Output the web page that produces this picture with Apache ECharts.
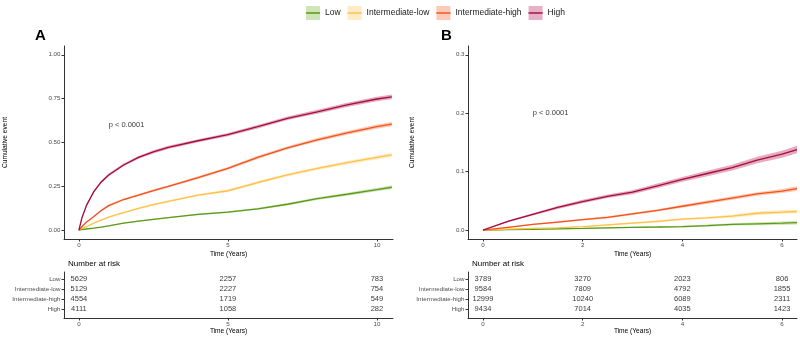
<!DOCTYPE html>
<html>
<head>
<meta charset="utf-8">
<script src="https://cdn.jsdelivr.net/npm/echarts@6/dist/echarts.min.js"></script>
<style>
  html, body { margin: 0; padding: 0; background: #fff; }
  #chart { width: 800px; height: 339px; }
</style>
</head>
<body>
<div id="chart"></div>
<script>
const FONT = "'Liberation Sans', Arial, sans-serif";

const groups = ["Low", "Intermediate-low", "Intermediate-high", "High"];
const lineColors = ["#5b9a17", "#ffc24a", "#f4511e", "#a50d3c"];
const bandColors = ["#d3e5bd", "#ffebc2", "#fcc9b1", "#e6aabe"];
const keyFills = ["rgba(150,196,100,0.45)", "rgba(255,215,140,0.5)", "rgba(250,150,110,0.5)", "rgba(205,100,140,0.5)"];

// panel A: cumulative event, 0-10.5 years
const timeA = [0, 0.1, 0.25, 0.5, 0.75, 1, 1.5, 2, 2.5, 3, 4, 5, 6, 7, 8, 9, 10, 10.5];
const lowA = [0, 0.003, 0.007, 0.012, 0.018, 0.025, 0.04, 0.052, 0.062, 0.072, 0.09, 0.103, 0.122, 0.148, 0.18, 0.205, 0.232, 0.245];
const intLowA = [0, 0.01, 0.02, 0.04, 0.058, 0.075, 0.1, 0.125, 0.146, 0.165, 0.2, 0.225, 0.272, 0.315, 0.352, 0.385, 0.415, 0.43];
const intHighA = [0, 0.02, 0.045, 0.078, 0.112, 0.14, 0.175, 0.2, 0.226, 0.25, 0.3, 0.352, 0.415, 0.47, 0.515, 0.555, 0.59, 0.605];
const highA = [0, 0.07, 0.14, 0.22, 0.275, 0.315, 0.372, 0.415, 0.447, 0.472, 0.51, 0.545, 0.59, 0.638, 0.675, 0.715, 0.748, 0.76];
// half width of the confidence band
const ciLowA = [0, 0.001, 0.002, 0.002, 0.003, 0.003, 0.003, 0.004, 0.004, 0.004, 0.005, 0.005, 0.006, 0.007, 0.008, 0.009, 0.01, 0.011];
const ciIntLowA = [0, 0.002, 0.003, 0.003, 0.004, 0.004, 0.005, 0.005, 0.006, 0.006, 0.006, 0.007, 0.008, 0.008, 0.009, 0.01, 0.011, 0.011];
const ciIntHighA = [0, 0.003, 0.004, 0.005, 0.005, 0.006, 0.006, 0.007, 0.007, 0.007, 0.008, 0.008, 0.009, 0.009, 0.01, 0.011, 0.012, 0.012];
const ciHighA = [0, 0.005, 0.006, 0.007, 0.007, 0.008, 0.008, 0.008, 0.009, 0.009, 0.009, 0.009, 0.01, 0.01, 0.011, 0.012, 0.013, 0.013];

// panel B: cumulative event, 0-6.3 years
const timeB = [0, 0.5, 1, 1.5, 2, 2.5, 3, 3.5, 4, 4.5, 5, 5.5, 6, 6.3];
const lowB = [0, 0.001, 0.0015, 0.0025, 0.003, 0.004, 0.005, 0.0055, 0.0063, 0.008, 0.01, 0.011, 0.012, 0.013];
const intLowB = [0, 0.002, 0.003, 0.004, 0.006, 0.009, 0.012, 0.015, 0.019, 0.021, 0.024, 0.029, 0.031, 0.032];
const intHighB = [0, 0.005, 0.01, 0.014, 0.018, 0.022, 0.028, 0.034, 0.041, 0.048, 0.055, 0.062, 0.067, 0.071];
const highB = [0, 0.015, 0.027, 0.039, 0.049, 0.058, 0.065, 0.076, 0.087, 0.097, 0.107, 0.12, 0.13, 0.138];
const ciLowB = [0, 0.0005, 0.0005, 0.001, 0.001, 0.001, 0.001, 0.0015, 0.0015, 0.002, 0.002, 0.0025, 0.003, 0.003];
const ciIntLowB = [0, 0.0005, 0.001, 0.001, 0.001, 0.0015, 0.0015, 0.002, 0.002, 0.002, 0.0025, 0.003, 0.003, 0.003];
const ciIntHighB = [0, 0.001, 0.001, 0.0015, 0.0015, 0.002, 0.002, 0.002, 0.0025, 0.003, 0.003, 0.003, 0.0035, 0.004];
const ciHighB = [0, 0.0015, 0.002, 0.0025, 0.003, 0.003, 0.0035, 0.004, 0.004, 0.0045, 0.005, 0.0055, 0.006, 0.0065];

// number at risk
const riskTimesA = [0, 5, 10];
const riskA = [
  [5629, 2257, 783],
  [5129, 2227, 754],
  [4554, 1719, 549],
  [4111, 1058, 282]
];
const riskTimesB = [0, 2, 4, 6];
const riskB = [
  [3789, 3270, 2023, 806],
  [9584, 7809, 4792, 1855],
  [12999, 10240, 6089, 2311],
  [9434, 7014, 4035, 1423]
];

const pvalA = [1, 0.6];
const pvalB = [1, 0.2];

const axisLine = { show: true, onZero: false, lineStyle: { color: "#333", width: 1 } };
const axisTick = { show: true, length: 2.5, lineStyle: { color: "#333", width: 1 } };
const tickLabel = { color: "#4d4d4d", fontSize: 6.2, fontFamily: FONT, margin: 3.5 };
const nameText = { color: "#000", fontSize: 6.6, fontFamily: FONT };

function xAxis(grid, min, max, ticks) {
  return {
    type: "value", gridIndex: grid, min: min, max: max,
    name: "Time (Years)", nameLocation: "middle", nameGap: grid % 2 ? 10 : 12,
    nameMoveOverlap: false,
    nameTextStyle: nameText,
    axisLine: axisLine,
    axisTick: Object.assign({ customValues: ticks }, axisTick),
    axisLabel: Object.assign({ customValues: ticks }, tickLabel),
    splitLine: { show: false }
  };
}

function yPlot(grid, min, max, ticks, digits, gap) {
  return {
    type: "value", gridIndex: grid, min: min, max: max,
    name: "Cumulative event", nameLocation: "middle", nameGap: gap,
    nameMoveOverlap: false,
    nameTextStyle: nameText,
    axisLine: axisLine,
    axisTick: Object.assign({ customValues: ticks }, axisTick),
    axisLabel: Object.assign({ customValues: ticks, formatter: v => v.toFixed(digits) }, tickLabel),
    splitLine: { show: false }
  };
}

function yTable(grid) {
  return {
    type: "value", gridIndex: grid, min: 0.3, max: 4.86, inverse: true,
    axisLine: axisLine,
    axisTick: Object.assign({ customValues: [1, 2, 3, 4] }, axisTick),
    axisLabel: Object.assign({ customValues: [1, 2, 3, 4], formatter: v => groups[Math.round(v) - 1] }, tickLabel),
    splitLine: { show: false }
  };
}

function bandSeries(axis, times, vals, ci, i) {
  return {
    type: "custom", name: groups[i] + " band", xAxisIndex: axis, yAxisIndex: axis,
    silent: true, z: 1, data: [[times[0], vals[0]]],
    renderItem: function (params, api) {
      const up = times.map((t, k) => api.coord([t, vals[k] + ci[k]]));
      const dn = times.map((t, k) => api.coord([t, vals[k] - ci[k]])).reverse();
      return { type: "polygon", shape: { points: up.concat(dn) }, style: { fill: bandColors[i] } };
    }
  };
}

function lineSeries(axis, times, vals, i) {
  return {
    type: "line", name: groups[i], xAxisIndex: axis, yAxisIndex: axis,
    data: times.map((t, k) => [t, vals[k]]),
    showSymbol: false, symbol: "rect", z: 3, silent: true,
    lineStyle: { color: lineColors[i], width: 1.3 },
    itemStyle: { color: lineColors[i] }
  };
}

function riskSeries(axis, times, table) {
  const data = [];
  table.forEach((row, r) => row.forEach((n, c) => data.push([times[c], r + 1, String(n)])));
  return {
    type: "scatter", xAxisIndex: axis, yAxisIndex: axis, symbolSize: 0, silent: true,
    data: data,
    label: { show: true, position: "inside", formatter: p => p.value[2], color: "#000", fontSize: 7.5, fontFamily: FONT }
  };
}

function pSeries(axis, pos) {
  return {
    type: "scatter", xAxisIndex: axis, yAxisIndex: axis, symbolSize: 0, silent: true,
    data: [pos],
    label: { show: true, position: "inside", align: "left", formatter: "p < 0.0001", color: "#000", fontSize: 7.5, fontFamily: FONT }
  };
}

const curvesA = [lowA, intLowA, intHighA, highA];
const cisA = [ciLowA, ciIntLowA, ciIntHighA, ciHighA];
const curvesB = [lowB, intLowB, intHighB, highB];
const cisB = [ciLowB, ciIntLowB, ciIntHighB, ciHighB];

const series = [];
[3, 2, 1, 0].forEach(i => {
  series.push(bandSeries(0, timeA, curvesA[i], cisA[i], i));
  series.push(bandSeries(2, timeB, curvesB[i], cisB[i], i));
});
[0, 1, 2, 3].forEach(i => {
  series.push(lineSeries(0, timeA, curvesA[i], i));
  series.push(lineSeries(2, timeB, curvesB[i], i));
});
series.push(riskSeries(1, riskTimesA, riskA));
series.push(riskSeries(3, riskTimesB, riskB));
series.push(pSeries(0, pvalA));
series.push(pSeries(2, pvalB));

const chart = echarts.init(document.getElementById("chart"));
chart.setOption({
  animation: false,
  backgroundColor: "#fff",
  title: [
    { text: "A", left: 30, top: 23, textStyle: { fontSize: 15, fontWeight: "bold", color: "#000", fontFamily: FONT } },
    { text: "B", left: 436, top: 23, textStyle: { fontSize: 15, fontWeight: "bold", color: "#000", fontFamily: FONT } },
    { text: "Number at risk", left: 63, top: 255, textStyle: { fontSize: 8, fontWeight: "normal", color: "#000", fontFamily: FONT } },
    { text: "Number at risk", left: 467, top: 255, textStyle: { fontSize: 8, fontWeight: "normal", color: "#000", fontFamily: FONT } }
  ],
  legend: {
    data: groups.map((g, i) => ({ name: g, itemStyle: { color: keyFills[i], borderWidth: 0 } })),
    left: 300, top: 1, itemWidth: 14, itemHeight: 17.5, itemGap: 6,
    selectedMode: false,
    textStyle: { fontSize: 8.5, color: "#1a1a1a", fontFamily: FONT }
  },
  grid: [
    { left: 64, top: 46, width: 329, height: 193 },
    { left: 64, top: 272, width: 329, height: 46 },
    { left: 468, top: 46, width: 329, height: 193 },
    { left: 468, top: 272, width: 329, height: 46 }
  ],
  xAxis: [
    xAxis(0, -0.5, 10.54, [0, 5, 10]),
    xAxis(1, -0.5, 10.54, riskTimesA),
    xAxis(2, -0.3, 6.3, [0, 2, 4, 6]),
    xAxis(3, -0.3, 6.3, riskTimesB)
  ],
  yAxis: [
    yPlot(0, -0.05, 1.05, [0, 0.25, 0.5, 0.75, 1], 2, 55),
    yTable(1),
    yPlot(2, -0.015, 0.315, [0, 0.1, 0.2, 0.3], 1, 52),
    yTable(3)
  ],
  series: series
});
</script>
</body>
</html>
